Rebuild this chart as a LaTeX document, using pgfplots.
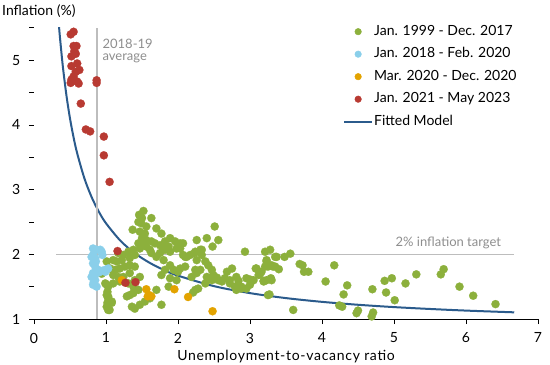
\documentclass[border=0pt]{standalone}
\usepackage{fontspec}
\setmainfont{Lato}
\newfontfamily\xlabfont[LetterSpace=5.0]{Lato}
\usepackage{pgfplots}
\pgfplotsset{compat=1.18}
\definecolor{cgreen}{HTML}{8CB03C}
\definecolor{clblue}{HTML}{8ACFEA}
\definecolor{corange}{HTML}{E3A300}
\definecolor{cred}{HTML}{B83A32}
\definecolor{cblue}{HTML}{2B5B8C}
\definecolor{cgrid}{HTML}{BDBDBD}
\definecolor{ctext}{HTML}{8E8E8E}
\begin{document}
\fontsize{14bp}{17bp}\selectfont
\begin{tikzpicture}
\useasboundingbox (0,0) rectangle (550bp,365bp);
\node[anchor=base west, inner sep=0pt] at (2bp,349bp) {Inflation (\%)};
\begin{axis}[
  at={(34bp,46bp)}, anchor=south west,
  scale only axis, width=504bp, height=291.1bp,
  xmin=0, xmax=7, ymin=1, ymax=5.5,
  axis x line*=bottom, axis y line*=left,
  y axis line style={draw=none},
  x axis line style={line width=0.8bp},
  xtick={0,1,...,7}, ytick={1,2,...,5},
  minor ytick={1.5,2.5,3.5,4.5,5.5},
  tick align=outside,
  major tick length=5bp, minor tick length=4.5bp,
  tick style={black, line width=0.8bp},
  /pgf/number format/assume math mode=true,
  ticklabel style={font=\fontsize{14bp}{17bp}\selectfont},
  yticklabel style={xshift=-4bp},
  xticklabel style={yshift=-4bp},
  xlabel={Unemployment-to-vacancy ratio},
  xlabel style={font=\xlabfont\fontsize{14bp}{17bp}\selectfont, yshift=2bp},
  legend style={draw=none, fill=none, at={(0.613,1.010)}, anchor=north west,
    inner sep=0pt, row sep=9.5bp, font=\fontsize{14bp}{17bp}\selectfont,
    nodes={inner xsep=1bp, inner ysep=0pt, text height=10bp, text depth=3bp}},
  legend cell align=left,
]
\addplot[cgreen, only marks, mark=*, mark size=4.1bp, mark options={fill=cgreen, draw=cgreen, line width=0.2bp},
  legend image code/.code={\fill[cgreen] (14bp,0bp) circle (3.3bp);}]
coordinates {
(1.52,2.67)(1.46,2.61)(1.50,2.56)(1.45,2.50)(1.49,2.48)(1.63,2.56)(1.56,2.43)(1.37,2.38)
(1.47,2.35)(1.54,2.32)(1.70,2.40)(1.77,2.32)(1.50,2.25)(1.56,2.22)(1.63,2.20)(1.45,2.17)
(1.52,2.14)(1.68,2.17)(1.75,2.14)(1.82,2.20)(1.89,2.25)(1.47,2.09)(1.56,2.12)(1.61,2.07)
(1.38,2.07)(1.31,2.04)(1.24,1.99)(1.17,2.02)(1.40,1.99)(1.33,1.94)(1.22,1.91)
(1.15,1.89)(1.10,1.91)(1.01,1.89)(1.06,1.78)(1.13,1.76)(1.19,1.78)(1.26,1.81)(1.33,1.83)
(1.40,1.81)(1.10,1.68)(1.17,1.65)(1.24,1.65)(1.33,1.71)(1.40,1.60)(1.47,1.65)(0.99,1.55)
(1.03,1.50)(1.10,1.55)(1.19,1.58)(1.31,1.55)(1.38,1.50)(1.45,1.45)(1.01,1.37)(1.03,1.32)
(1.08,1.27)(1.01,1.19)(1.03,1.14)(1.29,1.35)(1.33,1.37)(1.38,1.40)(1.36,1.19)(1.40,1.16)
(1.47,1.22)(1.54,1.27)(1.61,1.32)(1.70,1.45)(1.77,1.22)(1.87,1.50)(1.89,1.63)(1.77,1.68)
(1.82,1.76)(2.00,1.73)(1.98,1.60)(2.03,1.78)(2.10,1.81)(2.12,1.96)(2.07,1.99)(2.24,2.04)
(2.26,2.22)(2.40,2.25)(2.51,2.43)(2.31,2.07)(2.33,1.99)(2.38,1.89)(2.42,1.83)(2.47,1.76)
(2.49,1.68)(2.56,1.60)(2.61,1.58)(2.65,1.63)(2.72,1.55)(2.79,1.50)(2.81,1.45)(2.88,1.50)
(2.95,1.47)(3.00,1.53)(3.05,1.60)(3.09,1.78)(3.16,1.73)(3.21,1.81)(3.23,1.91)(3.30,1.83)
(3.35,1.81)(3.21,2.04)(3.28,2.07)(2.93,2.04)(2.56,2.22)(2.48,2.12)(2.03,2.17)(2.07,2.17)
(1.89,2.04)(1.82,2.07)(1.75,2.02)(1.70,1.96)(1.63,2.02)(1.98,2.09)(2.03,2.09)(2.17,1.99)
(2.19,1.65)(2.26,1.71)(2.31,1.76)(2.38,1.55)(2.24,1.45)(2.28,1.47)(2.47,1.60)(2.40,1.65)
(1.96,2.20)(1.87,2.12)(1.80,2.12)(1.89,1.83)(1.94,1.76)(1.80,1.91)(2.26,1.91)(2.68,1.73)
(2.75,1.78)(2.81,1.65)(2.95,1.63)(3.12,1.68)(3.23,1.60)(3.30,1.60)(3.37,1.96)(3.25,1.37)
(2.33,2.07)(2.23,2.02)(2.10,1.96)(3.08,1.78)(2.24,1.76)(2.54,1.64)(2.72,1.60)(2.84,1.59)
(3.19,1.59)(2.88,1.47)(2.21,1.41)(3.00,1.61)
(0.94,1.70)(1.01,1.53)(1.02,1.42)(1.03,1.35)(1.02,1.25)(1.05,1.14)(1.08,1.25)
(3.35,1.96)(3.48,1.96)(3.56,2.01)(3.23,1.89)(3.25,1.81)(3.32,1.81)(3.40,1.77)(3.14,1.70)
(3.19,1.58)(3.29,1.63)(3.27,1.38)(3.69,1.85)(3.73,1.83)(3.75,1.73)(3.81,1.73)(4.17,1.83)
(4.05,1.58)(4.35,1.52)(4.30,1.38)(4.24,1.21)(4.28,1.19)(4.48,1.09)(4.50,1.13)(4.70,1.46)
(3.60,1.14)(4.69,1.04)(4.71,1.10)(4.87,1.59)(4.97,1.63)(4.89,1.41)(5.01,1.29)(5.16,1.55)
(5.31,1.69)(5.65,1.69)(5.69,1.77)(5.91,1.50)(6.10,1.36)(6.41,1.23)
};
\addlegendentry{Jan. 1999 - Dec. 2017}
\addplot[clblue, only marks, mark=*, mark size=4.1bp, mark options={fill=clblue, draw=clblue, line width=0.2bp},
  legend image code/.code={\fill[clblue] (14bp,0bp) circle (3.3bp);}]
coordinates {
(0.82,2.09)(0.87,2.07)(0.92,2.07)(0.94,2.04)(0.82,1.99)(0.95,1.99)(0.80,1.96)(0.85,1.94)
(0.82,1.86)(0.85,1.81)(0.89,1.76)(0.96,1.75)(1.01,1.77)(1.03,1.78)(0.99,1.73)(0.82,1.71)
(0.80,1.65)(0.85,1.60)(0.82,1.53)(0.87,1.50)(0.84,1.68)(0.86,1.89)(0.90,1.72)(0.83,1.57)
};
\addlegendentry{Jan. 2018 - Feb. 2020}
\addplot[corange, only marks, mark=*, mark size=4.1bp, mark options={fill=corange, draw=corange, line width=0.2bp},
  legend image code/.code={\fill[corange] (14bp,0bp) circle (3.3bp);}]
coordinates {
(1.22,1.60)(1.56,1.46)(1.58,1.35)(1.63,1.35)(1.60,1.37)(1.95,1.46)(2.14,1.34)(2.48,1.12)
};
\addlegendentry{Mar. 2020 - Dec. 2020}
\addplot[cred, only marks, mark=*, mark size=4.1bp, mark options={fill=cred, draw=cred, line width=0.2bp},
  legend image code/.code={\fill[cred] (14bp,0bp) circle (3.3bp);}]
coordinates {
(0.51,5.40)(0.55,5.44)(0.55,5.22)(0.59,5.22)(0.52,5.06)(0.58,5.10)(0.60,4.95)(0.52,4.91)
(0.63,4.85)(0.58,4.82)(0.52,4.70)(0.60,4.67)(0.51,4.65)(0.62,4.64)(0.87,4.69)(0.87,4.65)
(0.65,4.33)(0.72,3.93)(0.78,3.90)(0.97,3.82)(0.97,3.53)(1.05,3.12)(1.16,2.05)(1.27,1.56)
(1.41,1.57)(0.56,5.14)(0.55,4.75)
};
\addlegendentry{Jan. 2021 - May 2023}
\addplot[cblue, line width=2bp, smooth,
  legend image code/.code={\draw[cblue, line width=2bp] (0bp,0bp) -- (28bp,0bp);}]
coordinates {
(0.34,5.62)(0.36,5.36)(0.40,4.91)(0.45,4.46)(0.50,4.10)(0.55,3.805)(0.60,3.56)(0.70,3.174)
(0.80,2.885)(0.90,2.66)(1.00,2.48)(1.20,2.21)(1.40,2.017)(1.60,1.8725)(1.80,1.76)(2.00,1.67)
(2.50,1.508)(3.00,1.40)(3.50,1.323)(4.00,1.265)(4.50,1.22)(5.00,1.184)(5.50,1.155)(6.00,1.13)
(6.67,1.103)
};
\addlegendentry{Fitted Model}
\addplot[cgrid, line width=2bp, forget plot] coordinates {(0.875,1) (0.875,5.5)};
\addplot[cgrid, line width=1.2bp, forget plot] coordinates {(0.31,2) (6.67,2)};
\node[anchor=west, text=ctext, inner sep=0pt, font=\fontsize{13bp}{15bp}\selectfont] at (axis cs:0.95,5.25) {2018-19};
\node[anchor=west, text=ctext, inner sep=0pt, font=\fontsize{13bp}{15bp}\selectfont] at (axis cs:0.95,5.03) {average};
\node[anchor=east, text=ctext, inner sep=0pt, font=\fontsize{13bp}{15bp}\selectfont] at (axis cs:6.49,2.175) {2\% inflation target};
\end{axis}
\end{tikzpicture}
\end{document}
